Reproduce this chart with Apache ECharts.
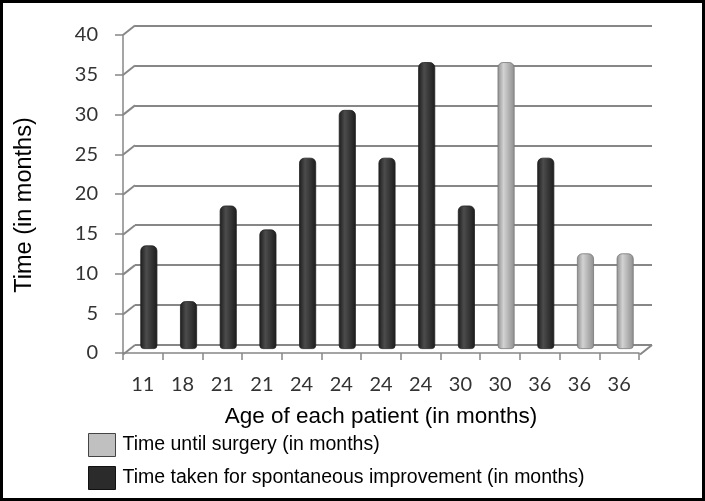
<!DOCTYPE html>
<html>
<head>
<meta charset="utf-8">
<script src="https://cdn.jsdelivr.net/npm/echarts@6/dist/echarts.min.js"></script>
<style>
html,body{margin:0;padding:0;background:#fff;}
#chart{position:absolute;left:0;top:0;width:705px;height:501px;}
#frame{position:absolute;left:0;top:0;width:705px;height:501px;box-sizing:border-box;border:3px solid #000;pointer-events:none;}
</style>
</head>
<body>
<div id="chart"></div>
<div id="frame"></div>
<script>
// ---- data ----
const ages = ['11','18','21','21','24','24','24','24','30','30','36','36','36'];
const spontaneous = [13, 6, 18, 15, 24, 30, 24, 36, 18, '-', 24, '-', '-'];
const surgery = ['-', '-', '-', '-', '-', '-', '-', '-', '-', 36, '-', 12, 12];
const yTicks = [0, 5, 10, 15, 20, 25, 30, 35, 40];
const nameSurgery = 'Time until surgery (in months)';
const nameSpont = 'Time taken for spontaneous improvement (in months)';

// ---- style ----
const DX = 12, DY = 9.5;
const gridGray = '#878787';
const labelFont = 'Lato';
const chart = echarts.init(document.getElementById('chart'), null, {renderer: 'canvas'});

function cyl(c1, c2) {
  return new echarts.graphic.LinearGradient(0, 0, 1, 0, [
    {offset: 0, color: c1}, {offset: 0.35, color: c2}, {offset: 1, color: c1}
  ]);
}

const diagData = yTicks.map(v => [0, v]).concat([[ages.length, 0]]);

chart.setOption({
  animation: false,
  backgroundColor: '#fff',
  grid: [
    {left: 123, right: 66, top: 35, bottom: 148},     // front
    {left: 129, right: 60, top: 30.25, bottom: 152},  // middle (bars)
    {left: 135, right: 53, top: 25.5, bottom: 156}    // back wall
  ],
  xAxis: [
    {type: 'category', gridIndex: 0, data: ages, boundaryGap: true,
     name: 'Age of each patient (in months)', nameLocation: 'middle', nameGap: 52,
     nameTextStyle: {fontFamily: 'Liberation Sans', fontSize: 22.5, color: '#000'},
     axisLine: {show: true, lineStyle: {color: gridGray, width: 1.5}},
     axisTick: {show: true, alignWithLabel: false, length: 7, lineStyle: {color: gridGray, width: 1.5}},
     axisLabel: {fontFamily: labelFont, fontSize: 20, color: '#333', margin: 22, interval: 0}},
    {type: 'category', gridIndex: 1, data: ages, show: false},
    {type: 'value', gridIndex: 2, min: 0, max: ages.length, show: false}
  ],
  yAxis: [
    {type: 'value', gridIndex: 0, min: 0, max: 40, interval: 5,
     name: 'Time (in months)', nameLocation: 'middle', nameGap: 86, nameRotate: 90,
     nameTextStyle: {fontFamily: 'Liberation Sans', fontSize: 23.5, color: '#000', padding: [0, 22, 0, 0]},
     axisLine: {show: true, lineStyle: {color: gridGray, width: 1.5}},
     axisTick: {show: true, length: 8, lineStyle: {color: gridGray, width: 1.5}},
     axisLabel: {fontFamily: labelFont, fontSize: 20, color: '#333', margin: 25},
     splitLine: {show: false}},
    {type: 'value', gridIndex: 1, min: 0, max: 40, interval: 5, show: false, splitLine: {show: false}},
    {type: 'value', gridIndex: 2, min: 0, max: 40, interval: 5,
     axisLine: {show: false}, axisTick: {show: false}, axisLabel: {show: false},
     splitLine: {show: true, lineStyle: {color: gridGray, width: 2}}}
  ],
  legend: {
    orient: 'vertical', left: 88, top: 433, padding: 0, itemWidth: 27, itemHeight: 23, itemGap: 9,
    icon: 'rect',
    textStyle: {fontFamily: 'Liberation Sans', fontSize: 19.5, color: '#000', padding: [0, 0, 0, 2]},
    data: [
      {name: nameSurgery, itemStyle: {color: '#c0c0c0', borderColor: '#444', borderWidth: 1}},
      {name: nameSpont, itemStyle: {color: '#2b2b2b', borderColor: '#111', borderWidth: 1}}
    ]
  },
  series: [
    {type: 'custom', xAxisIndex: 2, yAxisIndex: 2, data: diagData, silent: true, z: 1,
     renderItem: function (params, api) {
       const p = api.coord([api.value(0), api.value(1)]);
       return {type: 'line', shape: {x1: p[0], y1: p[1], x2: p[0] - DX, y2: p[1] + DY},
               style: {stroke: gridGray, lineWidth: 2}};
     }},
    {name: nameSpont, type: 'bar', xAxisIndex: 1, yAxisIndex: 1, data: spontaneous,
     barWidth: 17, barGap: '-100%', z: 3,
     itemStyle: {color: cyl('#1c1c1c', '#4c4c4c'), borderColor: '#222', borderWidth: 0.8,
                 borderRadius: [5, 5, 3, 3]}},
    {name: nameSurgery, type: 'bar', xAxisIndex: 1, yAxisIndex: 1, data: surgery,
     barWidth: 17, barGap: '-100%', z: 3,
     itemStyle: {color: cyl('#8e8e8e', '#d2d2d2'), borderColor: '#777', borderWidth: 0.8,
                 borderRadius: [5, 5, 3, 3]}}
  ]
});
</script>
</body>
</html>
